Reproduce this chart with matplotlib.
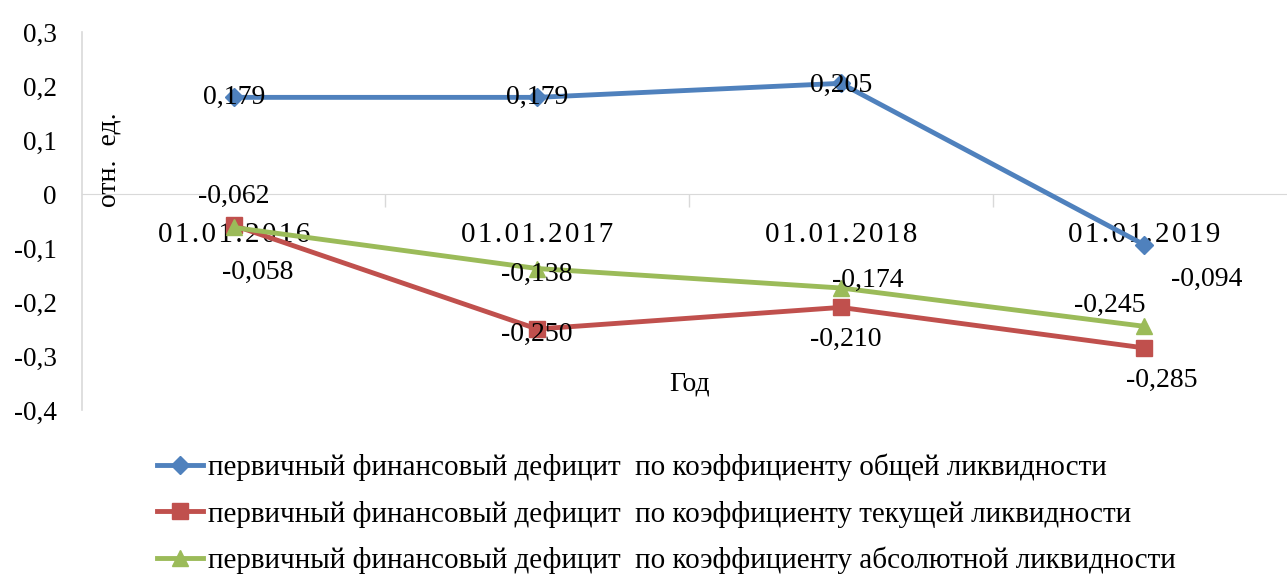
import matplotlib.pyplot as plt
from matplotlib.ticker import FuncFormatter, FixedLocator

# данные
dates = ["01.01.2016", "01.01.2017", "01.01.2018", "01.01.2019"]
obsh = [0.179, 0.179, 0.205, -0.094]
tek = [-0.058, -0.250, -0.210, -0.285]
abs_l = [-0.062, -0.138, -0.174, -0.245]
names = ["первичный финансовый дефицит  по коэффициенту общей ликвидности",
         "первичный финансовый дефицит  по коэффициенту текущей ликвидности",
         "первичный финансовый дефицит  по коэффициенту абсолютной ликвидности"]

# смещения подписей (пиксели)
off_obsh = [(0, 0), (0, 0), (0, -2), (62, -35)]
off_tek = [(24, -47), (0, -5), (5, -32), (17, -32)]
off_abs = [(0, 31), (0, -6), (27, 8), (-35, 21)]

plt.rcParams['font.family'] = 'serif'
plt.rcParams['font.serif'] = ['Liberation Serif', 'DejaVu Serif']

fig = plt.figure(figsize=(12.87, 5.77), dpi=100)
ax = fig.add_axes([0.0637, 0.2894, 0.9433, 0.6551])

x = list(range(len(dates)))
l1, = ax.plot(x, obsh, color='#4f81bd', lw=3.5, marker='D', ms=9, zorder=3)
l2, = ax.plot(x, tek, color='#c0504d', lw=3.5, marker='s', ms=11, zorder=3)
l3, = ax.plot(x, abs_l, color='#9bbb59', lw=3.5, marker='^', ms=12, zorder=4)

def fmt(v):
    return ("%.3f" % v).replace('.', ',')

for vals, offs in [(obsh, off_obsh), (tek, off_tek), (abs_l, off_abs)]:
    for i, v in enumerate(vals):
        ax.annotate(fmt(v), (i, v), xytext=offs[i], textcoords='offset pixels',
                    ha='center', va='center', fontsize=20, zorder=5)

ax.set_xlim(-0.5, 3.5)
ax.set_ylim(-0.4, 0.3)
ax.yaxis.set_major_locator(FixedLocator([0.3, 0.2, 0.1, 0, -0.1, -0.2, -0.3, -0.4]))
ax.yaxis.set_major_formatter(FuncFormatter(lambda v, p: "0" if abs(v) < 1e-9 else ("%.1f" % v).replace('.', ',')))
ax.tick_params(axis='y', length=0, pad=18, labelsize=19.5)

# разреженные подписи дат
ax.set_xticks(x)
ax.set_xticklabels(["\u200a".join(d) for d in dates])
ax.set_xticks([0.5, 1.5, 2.5], minor=True)
ax.tick_params(axis='x', which='major', length=0, pad=20, labelsize=21)
ax.tick_params(axis='x', which='minor', length=9, width=1, color='#d9d9d9', direction='out')

for s in ['top', 'right']:
    ax.spines[s].set_visible(False)
ax.spines['bottom'].set_position(('data', 0))
ax.spines['bottom'].set_color('#d9d9d9')
ax.spines['left'].set_color('#d9d9d9')
ax.spines['left'].set_linewidth(1.2)

ax.text(-0.41, 0.063, "отн.  ед.", rotation=90, fontsize=20, ha='center', va='center')
ax.text(1.503, -0.352, "Год", fontsize=20, ha='center', va='center')

fig.legend([l1, l2, l3], names, loc='upper left', bbox_to_anchor=(0.1126, 0.2335),
           frameon=False, fontsize=21, handlelength=1.6, handletextpad=0.15,
           labelspacing=0.66, borderaxespad=0)

fig.savefig("out.png", dpi=100)
